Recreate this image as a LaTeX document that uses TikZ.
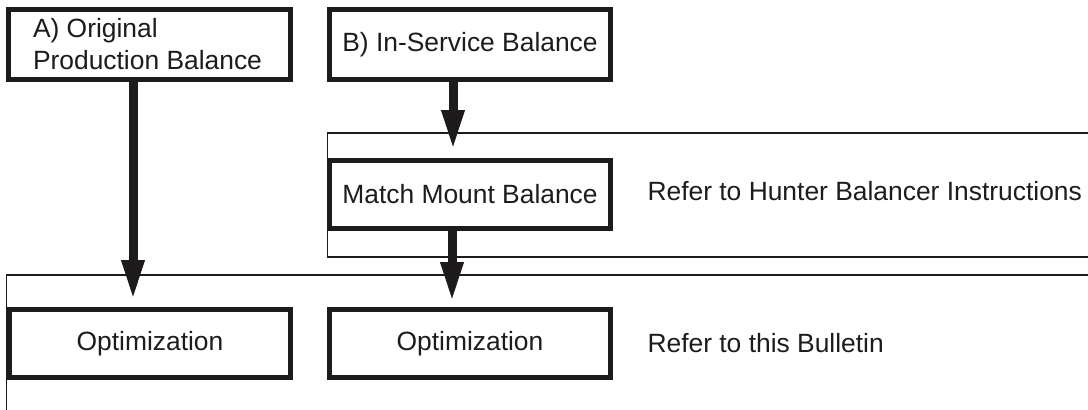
\documentclass[tikz,border=0pt]{standalone}
\usepackage{fontspec}
\setmainfont{Liberation Sans}
\usetikzlibrary{arrows.meta}
\definecolor{ink}{RGB}{30,27,28}
\begin{document}
\begin{tikzpicture}[x=1pt,y=-1pt,
  every node/.style={font=\fontsize{26.4}{32}\selectfont, text=ink},
  stepbox/.style={draw=ink, line width=5pt, fill=white, inner sep=0pt,
    minimum width=281pt, minimum height=68pt, align=left},
  frameline/.style={draw=ink, line width=1.3pt},
  arr/.style={draw=ink, line width=9pt,
    -{Triangle[width=21pt,length=40pt,color=ink]}},
  note/.style={anchor=base west}
]
\useasboundingbox (0,0) rectangle (1088,410);
% frames
\coordinate (f1a) at (1088,133);
\coordinate (f1b) at (327.5,133);
\coordinate (f1c) at (327.5,257);
\coordinate (f1d) at (1088,257);
\coordinate (f2a) at (1088,275);
\coordinate (f2b) at (6.5,275);
\coordinate (f2c) at (6.5,410);
\draw[frameline] (f1a) -- (f1b) -- (f1c) -- (f1d);
\draw[frameline] (f2a) -- (f2b) -- (f2c);
% boxes
\node[stepbox, minimum width=282pt, minimum height=70pt] (ta) at (149.5,44.5) {\hspace*{-4pt}A) Original\\\hspace*{-4pt}Production Balance};
\node[stepbox, minimum height=70pt] (tb) at (470,44.5) {\raisebox{2pt}{B) In-Service Balance}};
\node[stepbox] (mm) at (470,194.5) {Match Mount Balance};
\node[stepbox] (oa) at (150,343.5) {Optimization};
\node[stepbox] (ob) at (470,343.5) {Optimization};
% notes
\node[note] (n1) at (644,200) {Refer to Hunter Balancer Instructions};
\node[note] (n2) at (644,352) {Refer to this Bulletin};
% arrows
\coordinate (xa) at (133,0);
\coordinate (xb) at (453,0);
\coordinate (xc) at (452,0);
\draw[arr, shorten >=7pt] (ta.south -| xa) -- (oa.north -| xa);
\draw[arr, shorten >=8pt] (tb.south -| xb) -- (mm.north -| xb);
\draw[arr, shorten >=5pt] (mm.south -| xc) -- (ob.north -| xc);
\end{tikzpicture}
\end{document}
